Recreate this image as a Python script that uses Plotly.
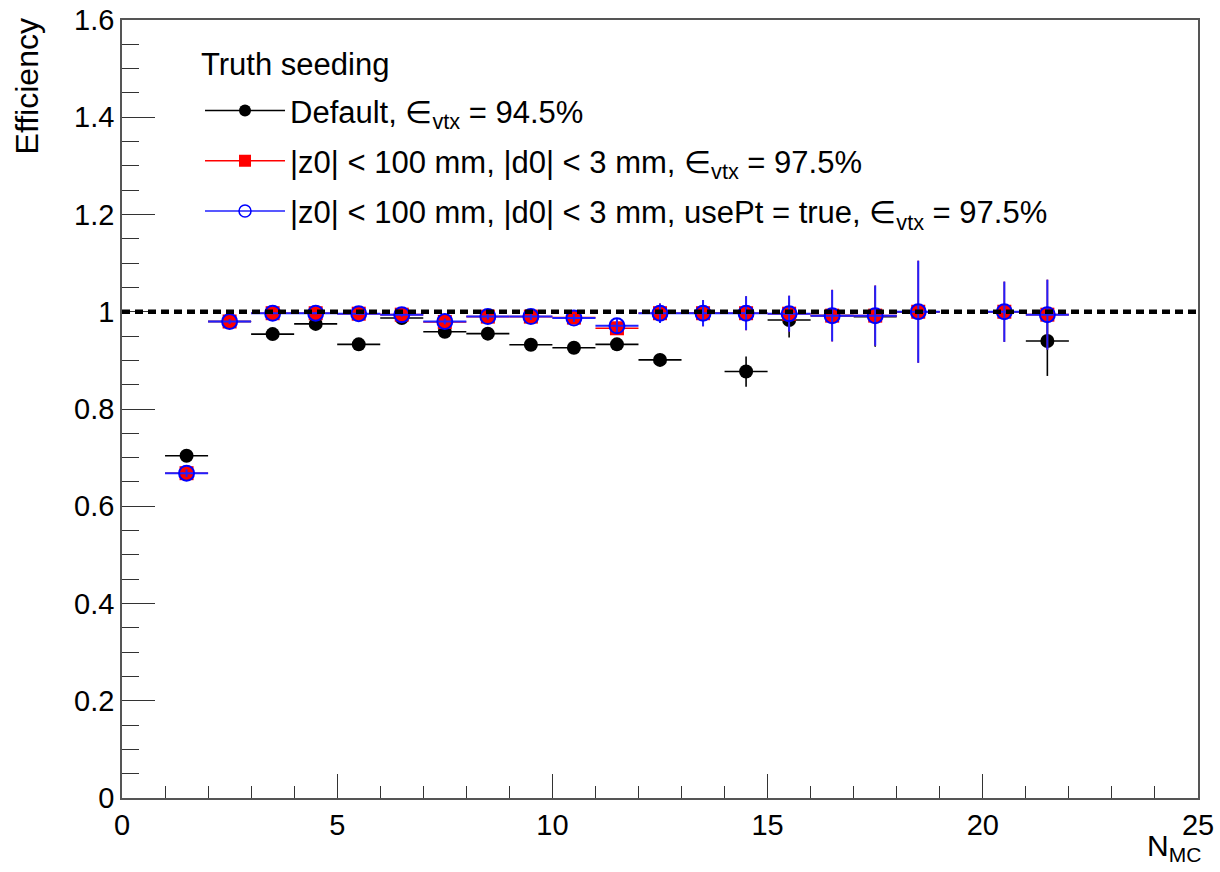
import plotly.graph_objects as go

# ---------------- data ----------------
n_mc = [1.5, 2.5, 3.5, 4.5, 5.5, 6.5, 7.5, 8.5, 9.5, 10.5,
        11.5, 12.5, 13.5, 14.5, 15.5, 16.5, 17.5, 18.5, 20.5, 21.5]

eff_default = [0.704, 0.980, 0.954, 0.975, 0.933, 0.987, 0.959, 0.955, 0.932, 0.926,
               0.933, 0.901, 0.997, 0.877, 0.983, 0.992, 0.990, 1.000, 1.000, 0.940]
err_default = [0.008, 0.005, 0.005, 0.005, 0.007, 0.004, 0.007, 0.008, 0.009, 0.010,
               0.012, 0.013, 0.005, 0.031, 0.036, 0.020, 0.062, 0.000, 0.000, 0.072]

eff_cuts = [0.668, 0.980, 0.997, 0.997, 0.996, 0.994, 0.979, 0.990, 0.990, 0.988,
            0.966, 0.997, 0.997, 0.997, 0.996, 0.992, 0.992, 1.000, 1.000, 0.994]
err_cuts = [0.008, 0.005, 0.002, 0.002, 0.003, 0.004, 0.006, 0.006, 0.007, 0.008,
            0.014, 0.020, 0.027, 0.035, 0.037, 0.053, 0.062, 0.105, 0.062, 0.072]

eff_usept = [0.668, 0.980, 0.997, 0.997, 0.996, 0.994, 0.980, 0.990, 0.990, 0.987,
             0.971, 0.997, 0.997, 0.997, 0.996, 0.992, 0.992, 1.000, 1.000, 0.994]
err_usept = [0.008, 0.005, 0.002, 0.002, 0.003, 0.004, 0.006, 0.006, 0.007, 0.008,
             0.014, 0.020, 0.027, 0.035, 0.037, 0.053, 0.062, 0.105, 0.062, 0.072]

bin_half_width = 0.5
reference_level = 1.0

legend_title = "Truth seeding"
label_default = "Default, ∈<sub>vtx</sub> = 94.5%"
label_cuts = "|z0| < 100 mm, |d0| < 3 mm, ∈<sub>vtx</sub> = 97.5%"
label_usept = "|z0| < 100 mm, |d0| < 3 mm, usePt = true, ∈<sub>vtx</sub> = 97.5%"

x_title = "N<sub>MC</sub>"
y_title = "Efficiency"

FONT = "Liberation Sans, Arial, Helvetica, sans-serif"

# ---------------- figure ----------------
fig = go.Figure()

series = [
    (eff_default, err_default, "#000000", dict(symbol="circle", size=14, color="#000000"), 1.6, label_default),
    (eff_cuts, err_cuts, "#ff0000", dict(symbol="square", size=14, color="#ff0000"), 1.6, label_cuts),
    (eff_usept, err_usept, "#2020ff", dict(symbol="circle-open", size=15, color="#0000ff",
                                           line=dict(width=2, color="#0000ff")), 2.0, label_usept),
]

for i, (y, e, col, mk, th, lab) in enumerate(series):
    fig.add_trace(go.Scatter(
        x=n_mc, y=y, mode="markers", marker=mk, showlegend=False,
        error_y=dict(type="data", array=e, visible=True, color=col, thickness=th, width=0),
        error_x=dict(type="constant", value=bin_half_width, visible=True, color=col, thickness=th, width=0),
        legendgroup=f"g{i}",
    ))

# legend entries (ROOT style: line + marker)
legend_markers = [
    dict(symbol="circle", size=12, color="#000000"),
    dict(symbol="square", size=12, color="#ff0000"),
    dict(symbol="circle-open", size=12, color="#0000ff", line=dict(width=1.5, color="#0000ff")),
]
for i, (y, e, col, mk, th, lab) in enumerate(series):
    fig.add_trace(go.Scatter(
        x=[None], y=[None], mode="lines+markers", name=lab,
        marker=legend_markers[i], line=dict(color=col, width=1.5),
        legendgroup=f"g{i}", showlegend=True,
    ))

fig.add_hline(y=reference_level, line=dict(color="black", width=4.5, dash="8px,5px"), layer="above")

axis_common = dict(
    showgrid=False, zeroline=False, automargin=False,
    showline=True, linecolor="#555555", linewidth=1.5, mirror=True,
    ticks="inside", tickcolor="#333333", tickwidth=1,
    tickfont=dict(family=FONT, size=29, color="black"),
)

fig.update_xaxes(range=[0, 25], dtick=5, tick0=0, ticklen=24,
                 minor=dict(dtick=1, ticklen=12, ticks="inside", tickcolor="#333333", tickwidth=1),
                 **axis_common)
fig.update_yaxes(range=[0, 1.6], dtick=0.2, tick0=0, ticklen=33,
                 minor=dict(dtick=0.05, ticklen=17, ticks="inside", tickcolor="#333333", tickwidth=1),
                 **axis_common)

fig.update_layout(
    width=1220, height=872,
    margin=dict(l=122, r=22, t=20, b=74, autoexpand=False),
    paper_bgcolor="white", plot_bgcolor="white",
    font=dict(family=FONT, size=29, color="black"),
    legend=dict(
        x=0.0725, y=0.918, xanchor="left", yanchor="top",
        bgcolor="rgba(0,0,0,0)", borderwidth=0,
        font=dict(family=FONT, size=31),
        itemwidth=80, traceorder="grouped", tracegroupgap=7,
        itemsizing="trace",
    ),
    annotations=[
        dict(text=legend_title, xref="paper", yref="paper", x=0.0715, y=0.943,
             xanchor="left", yanchor="middle", showarrow=False,
             font=dict(family=FONT, size=31)),
        dict(text=y_title, xref="paper", yref="paper", x=-0.088, y=1.005,
             xanchor="center", yanchor="top", textangle=-90, showarrow=False,
             font=dict(family=FONT, size=32)),
        dict(text=x_title, xref="paper", yref="paper", x=1.005, y=-0.037,
             xanchor="right", yanchor="top", showarrow=False,
             font=dict(family=FONT, size=30)),
    ],
)

fig.write_html("out.html")
